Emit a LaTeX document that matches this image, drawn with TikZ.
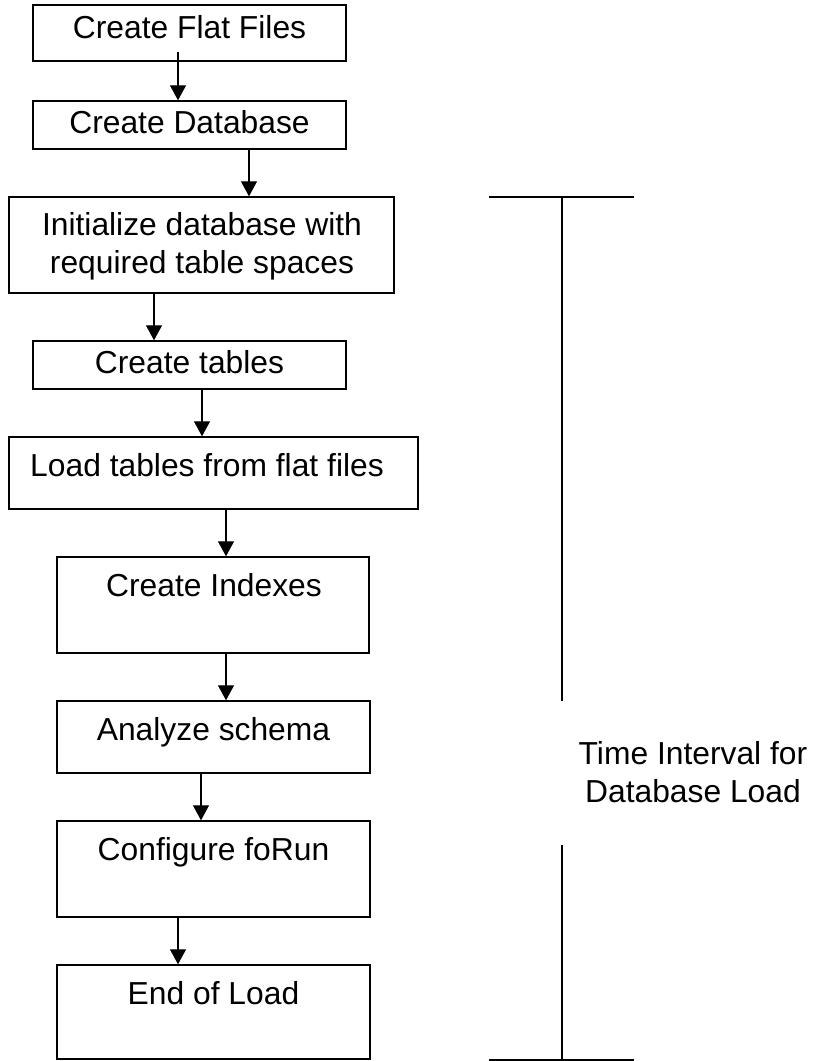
\documentclass[tikz,border=0pt]{standalone}
\usepackage{fontspec}
\setmainfont{Liberation Sans}
\usetikzlibrary{arrows.meta}
\begin{document}
\begin{tikzpicture}[x=1pt,y=-1pt,
  box/.style={draw,line width=1.4pt,inner sep=0pt},
  lbl/.style={font=\fontsize{31.8}{37.5}\selectfont,inner sep=0pt,anchor=base,align=center},
  arr/.style={line width=1.2pt,-{Triangle[width=16pt,length=15pt]}},
  brk/.style={line width=1.4pt}]
\useasboundingbox (0,0) rectangle (815,1061);
% boxes
\node[box,minimum width=313pt,minimum height=56pt] (b1) at (189.5,33) {};
\node[box,minimum width=313pt,minimum height=48pt] (b2) at (189.5,125) {};
\node[box,minimum width=385pt,minimum height=96pt] (b3) at (201.5,245) {};
\node[box,minimum width=313pt,minimum height=48pt] (b4) at (189.5,365) {};
\node[box,minimum width=409pt,minimum height=72pt] (b5) at (213.5,473) {};
\node[box,minimum width=312pt,minimum height=96pt] (b6) at (213,605) {};
\node[box,minimum width=313pt,minimum height=72pt] (b7) at (213.5,737) {};
\node[box,minimum width=313pt,minimum height=96pt] (b8) at (213.5,869) {};
\node[box,minimum width=313pt,minimum height=94pt] (b9) at (213.5,1012) {};
% texts
\node[lbl] (t1) at (189.5,38) {Create Flat Files};
\node[lbl] (t2) at (189.5,133) {Create Database};
\node[lbl] (t3) at (202,273) {Initialize database with\\required table spaces};
\node[lbl] (t4) at (189.5,373) {Create tables};
\node[lbl] (t5) at (207,476) {Load tables from flat files};
\node[lbl] (t6) at (214,596) {Create Indexes};
\node[lbl] (t7) at (213.5,740) {Analyze schema};
\node[lbl] (t8) at (213.5,860) {Configure foRun};
\node[lbl] (t9) at (213.5,1004) {End of Load};
\node[lbl] (tr) at (693,802) {Time Interval for\\Database Load};
% arrow columns
\coordinate (a1) at (178,52);
\coordinate (cB) at (249,0);
\coordinate (cC) at (154,0);
\coordinate (cD) at (202,0);
\coordinate (cE) at (226,0);
\coordinate (cF) at (201,0);
\coordinate (cG) at (178,0);
\draw[arr] (a1) -- (a1 |- b2.north);
\draw[arr] (b2.south -| cB) -- (b3.north -| cB);
\draw[arr] (b3.south -| cC) -- (b4.north -| cC);
\draw[arr] (b4.south -| cD) -- (b5.north -| cD);
\draw[arr] (b5.south -| cE) -- (b6.north -| cE);
\draw[arr] (b6.south -| cE) -- (b7.north -| cE);
\draw[arr] (b7.south -| cF) -- (b8.north -| cF);
\draw[arr] (b8.south -| cG) -- (b9.north -| cG);
% bracket
\coordinate (k1) at (489,197);
\coordinate (k2) at (634,197);
\coordinate (km) at (562,197);
\coordinate (g1) at (562,701);
\coordinate (g2) at (562,845);
\coordinate (bm) at (562,1060);
\coordinate (u1) at (489,1060);
\coordinate (u2) at (634,1060);
\draw[brk] (k1) -- (k2);
\draw[brk] (km) -- (g1);
\draw[brk] (g2) -- (bm);
\draw[brk] (u1) -- (u2);
\end{tikzpicture}
\end{document}
